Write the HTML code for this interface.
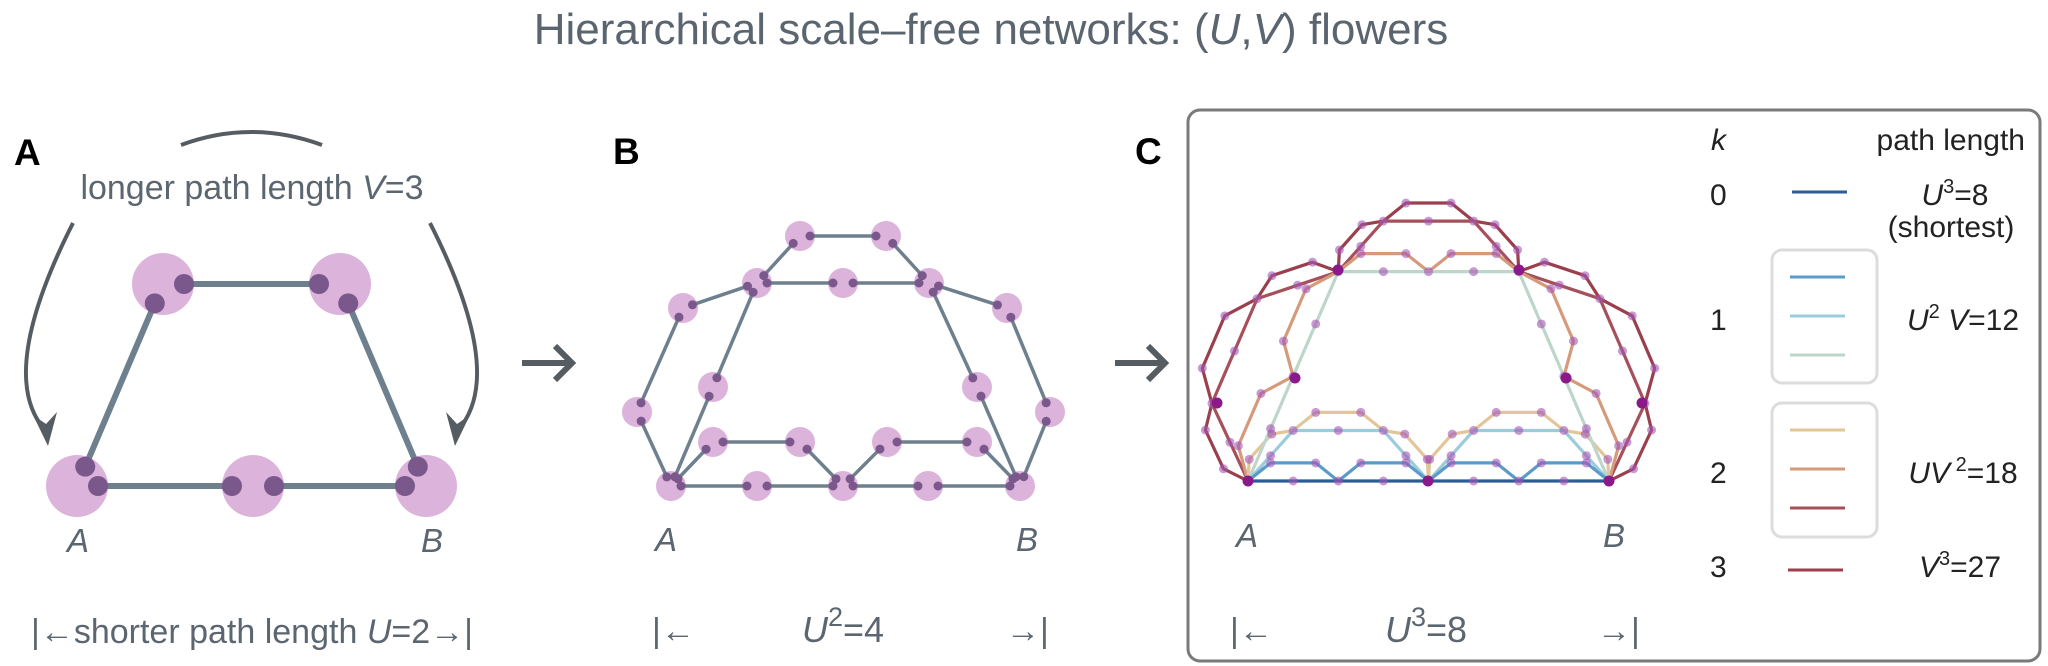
<!DOCTYPE html>
<html><head><meta charset="utf-8">
<style>
html,body{margin:0;padding:0;background:#fff;}
svg{display:block;}
text{font-family:"Liberation Sans",Arial,sans-serif;}
</style></head>
<body>
<svg id="s" width="2048" height="666" viewBox="0 0 2048 666" xmlns="http://www.w3.org/2000/svg">
<text x="991" y="44" font-size="44" fill="#5a6570" text-anchor="middle">Hierarchical scale–free networks: (<tspan font-style="italic">U</tspan>,<tspan font-style="italic">V</tspan>) flowers</text>

<text x="14" y="165" font-size="37" font-weight="bold" fill="#000">A</text>
<text x="613" y="164" font-size="37" font-weight="bold" fill="#000">B</text>
<text x="1135" y="164" font-size="37" font-weight="bold" fill="#000">C</text>

<path d="M181,145 Q251,119 322,145" stroke="#555d63" stroke-width="4" fill="none"/>
<text x="252" y="199" font-size="34" fill="#5c6670" text-anchor="middle">longer path length <tspan font-style="italic">V</tspan>=3</text>
<path d="M73,223 Q-4,375 45,430" stroke="#555d63" stroke-width="4" fill="none"/>
<path d="M48,446 L33,415 L46,424 L57,412 Z" fill="#555d63"/>
<path d="M430,223 Q507,375 458,430" stroke="#555d63" stroke-width="4" fill="none"/>
<path d="M455,446 L470,415 L457,424 L446,412 Z" fill="#555d63"/>
<g id="pa"></g>
<text x="78" y="552" font-size="33" font-style="italic" fill="#5c6670" text-anchor="middle">A</text>
<text x="432" y="552" font-size="33" font-style="italic" fill="#5c6670" text-anchor="middle">B</text>
<text x="252" y="643" font-size="34" fill="#5c6670" text-anchor="middle">|←shorter path length <tspan font-style="italic">U</tspan>=2→|</text>

<g stroke="#555d63" stroke-width="6" fill="none">
<line x1="522" y1="363" x2="570" y2="363"/><polyline points="555,346 572,363 555,380"/>
<line x1="1115" y1="363" x2="1163" y2="363"/><polyline points="1148,346 1165,363 1148,380"/>
</g>

<g id="pb"></g>
<text x="666" y="551" font-size="33" font-style="italic" fill="#5c6670" text-anchor="middle">A</text>
<text x="1027" y="551" font-size="33" font-style="italic" fill="#5c6670" text-anchor="middle">B</text>
<text x="652" y="642" font-size="34" fill="#5c6670">|←</text>
<text x="802" y="642" font-size="36" fill="#5c6670"><tspan font-style="italic">U</tspan><tspan font-size="27" dy="-16">2</tspan><tspan dy="16">=4</tspan></text>
<text x="1006" y="642" font-size="34" fill="#5c6670">→|</text>

<rect x="1188" y="110" width="852" height="551" rx="12" fill="none" stroke="#7a7a7a" stroke-width="3"/>
<g id="pc"></g>
<text x="1247" y="547" font-size="33" font-style="italic" fill="#5c6670" text-anchor="middle">A</text>
<text x="1614" y="547" font-size="33" font-style="italic" fill="#5c6670" text-anchor="middle">B</text>
<text x="1230" y="642" font-size="34" fill="#5c6670">|←</text>
<text x="1385" y="642" font-size="36" fill="#5c6670"><tspan font-style="italic">U</tspan><tspan font-size="27" dy="-16">3</tspan><tspan dy="16">=8</tspan></text>
<text x="1597" y="642" font-size="34" fill="#5c6670">→|</text>

<g fill="#222" font-size="30">
<text x="1711" y="150" font-style="italic">k</text>
<text x="2025" y="150" text-anchor="end">path length</text>
<text x="1710" y="205">0</text>
<text x="1710" y="330">1</text>
<text x="1710" y="483">2</text>
<text x="1710" y="577">3</text>
<text x="1955" y="205" text-anchor="middle"><tspan font-style="italic">U</tspan><tspan font-size="20" dy="-12">3</tspan><tspan dy="12">=8</tspan></text>
<text x="1951" y="237" text-anchor="middle">(shortest)</text>
<text x="1963" y="330" text-anchor="middle"><tspan font-style="italic">U</tspan><tspan font-size="20" dy="-12">2</tspan><tspan dy="12" font-style="italic"> V</tspan>=12</text>
<text x="1963" y="483" text-anchor="middle"><tspan font-style="italic">UV</tspan><tspan font-size="20" dy="-12"> 2</tspan><tspan dy="12">=18</tspan></text>
<text x="1960" y="577" text-anchor="middle"><tspan font-style="italic">V</tspan><tspan font-size="20" dy="-12">3</tspan><tspan dy="12">=27</tspan></text>
</g>
<rect x="1772" y="250" width="105" height="133" rx="10" fill="none" stroke="#dcdcdc" stroke-width="3"/>
<rect x="1772" y="403" width="105" height="134" rx="10" fill="none" stroke="#dcdcdc" stroke-width="3"/>
<g stroke-width="3">
<line x1="1792" y1="192" x2="1847" y2="192" stroke="#2c5d97"/>
<line x1="1790" y1="277" x2="1845" y2="277" stroke="#5b9bc9"/>
<line x1="1790" y1="316" x2="1845" y2="316" stroke="#9ccbdb"/>
<line x1="1790" y1="355" x2="1845" y2="355" stroke="#bdd6c9"/>
<line x1="1790" y1="430" x2="1845" y2="430" stroke="#e3c59a"/>
<line x1="1790" y1="469" x2="1845" y2="469" stroke="#d59a7b"/>
<line x1="1790" y1="508" x2="1845" y2="508" stroke="#a5505b"/>
<line x1="1788" y1="570" x2="1843" y2="570" stroke="#9a3f4c"/>
</g>
</svg>
<script>
(function(){
var NS="http://www.w3.org/2000/svg";
function el(p,t,a){var e=document.createElementNS(NS,t);for(var k in a)e.setAttribute(k,a[k]);p.appendChild(e);return e;}
function net(g,N,E,R,r,off,w){
  for(var k in N)el(g,'circle',{cx:N[k][0],cy:N[k][1],r:R,fill:'#dcb3db'});
  E.forEach(function(e){var a=N[e[0]],b=N[e[1]],dx=b[0]-a[0],dy=b[1]-a[1],L=Math.hypot(dx,dy),ux=dx/L,uy=dy/L;
    var p1=[a[0]+ux*off,a[1]+uy*off],p2=[b[0]-ux*off,b[1]-uy*off];
    el(g,'line',{x1:p1[0],y1:p1[1],x2:p2[0],y2:p2[1],stroke:'#6e7f8e','stroke-width':w});
    el(g,'circle',{cx:p1[0],cy:p1[1],r:r,fill:'#7b588c'});
    el(g,'circle',{cx:p2[0],cy:p2[1],r:r,fill:'#7b588c'});
  });
}
net(document.getElementById('pa'),
 {A:[77,486],M:[253,486],B:[426,486],L:[163,284],R:[340,284]},
 [['A','M'],['M','B'],['A','L'],['L','R'],['R','B']],31,10,21,6);
net(document.getElementById('pb'),
 {a:[800,236],b:[886,236],c:[757,283],d:[843,283],e:[929,283],f:[683,308],g:[1007,308],h:[713,387],i:[977,387],j:[637,412],k:[1050,412],l:[713,442],m:[800,442],n:[887,442],o:[977,442],p:[671,486],q:[757,486],r:[843,486],s:[928,486],t:[1020,486]},
 [['a','b'],['a','c'],['b','e'],['c','d'],['d','e'],['c','f'],['e','g'],['f','j'],['g','k'],['j','p'],['k','t'],['c','h'],['h','p'],['e','i'],['i','t'],['p','q'],['q','r'],['r','s'],['s','t'],['p','l'],['l','m'],['m','r'],['r','n'],['n','o'],['o','t']],15,4.5,10,3.5);
var g=document.getElementById('pc');
var A=[1248,481],B=[1609,481];
function motif(P,Q,lng,h){var v=[Q[0]-P[0],Q[1]-P[1]];if(!lng)return [P,[P[0]+v[0]/2,P[1]+v[1]/2],Q];
 var rx=v[1],ry=-v[0];return [P,[P[0]+.25*v[0]+h*rx,P[1]+.25*v[1]+h*ry],[P[0]+.75*v[0]+h*rx,P[1]+.75*v[1]+h*ry],Q];}
function refine(pts,lng,h){var o=[pts[0]];for(var i=0;i<pts.length-1;i++){var m=motif(pts[i],pts[i+1],lng,h);for(var j=1;j<m.length;j++)o.push(m[j]);}return o;}
var types=[[1,1,1,'#9a3f4c'],[1,1,0,'#a5505b'],[1,0,1,'#d59a7b'],[0,1,1,'#e3c59a'],[1,0,0,'#bdd6c9'],[0,1,0,'#9ccbdb'],[0,0,1,'#5b9bc9'],[0,0,0,'#2c5d97']];
var all={};
types.forEach(function(t){var p=motif(A,B,t[0],0.58);p=refine(p,t[1],0.28);p=refine(p,t[2],0.2);
 el(g,'polyline',{points:p.map(function(q){return q[0].toFixed(1)+','+q[1].toFixed(1)}).join(' '),fill:'none',stroke:t[3],'stroke-width':3.2,'stroke-linejoin':'round'});
 p.forEach(function(q){all[Math.round(q[0])+','+Math.round(q[1])]=q;});});
for(var k in all){var q=all[k];el(g,'circle',{cx:q[0],cy:q[1],r:4.5,fill:'#a455b4','fill-opacity':0.6});}
[[1248,481],[1428,481],[1609,481],[1338,270],[1519,270],[1295,378],[1566,378],[1217,403],[1642,403]].forEach(function(q){el(g,'circle',{cx:q[0],cy:q[1],r:5.5,fill:'#8a1a8a'});});
})();
</script>
</body></html>
